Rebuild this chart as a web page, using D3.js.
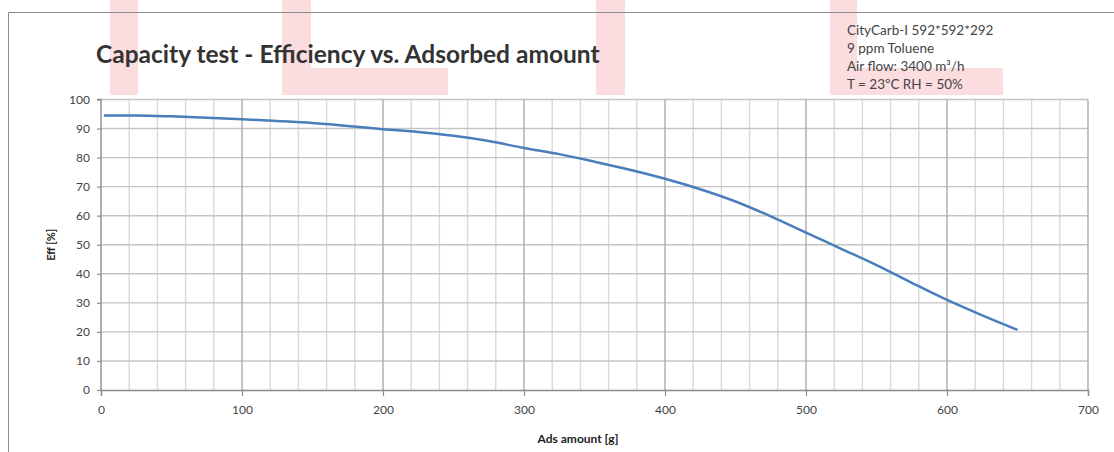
<!DOCTYPE html>
<html><head><meta charset="utf-8">
<script src="https://cdn.jsdelivr.net/npm/d3@7"></script>
<style>body{margin:0;background:#fff}svg{display:block}</style>
</head><body>
<svg id="c" width="1114" height="452"></svg>
<script>
const titleText = "Capacity test - Efficiency vs. Adsorbed amount";
const noteLines = ["CityCarb-I 592*592*292", "9 ppm Toluene", "Air flow: 3400 m³/h", "T = 23ºC RH = 50%"];
const xLabel = "Ads amount [g]";
const yLabel = "Eff [%]";
const xTicks = [0, 100, 200, 300, 400, 500, 600, 700];
const yTicks = [0, 10, 20, 30, 40, 50, 60, 70, 80, 90, 100];
const adsAmount = [2, 25, 50, 75, 100, 125, 150, 175, 200, 225, 250, 275, 300, 325, 350, 375, 400, 425, 450, 475, 500, 525, 550, 575, 600, 625, 650];
const efficiency = [94.5, 94.5, 94.2, 93.7, 93.2, 92.6, 91.9, 90.9, 89.8, 88.8, 87.5, 85.7, 83.3, 81.2, 78.6, 75.8, 72.7, 69.1, 64.9, 59.8, 54.2, 48.6, 43.0, 36.9, 31.0, 25.7, 20.7];

const svg = d3.select("#c");
const font = "Lato, 'Open Sans', sans-serif";

// decorative watermark shapes
const pink = "#fbdcdf";
const wm = svg.append("g").attr("fill", pink);
wm.append("rect").attr("x",110).attr("y",0).attr("width",28).attr("height",95);
wm.append("rect").attr("x",282).attr("y",0).attr("width",29).attr("height",95);
wm.append("rect").attr("x",282).attr("y",68).attr("width",166).attr("height",27);
wm.append("rect").attr("x",596).attr("y",0).attr("width",29).attr("height",95);
wm.append("rect").attr("x",830).attr("y",0).attr("width",27).attr("height",95);
wm.append("rect").attr("x",830).attr("y",68).attr("width",173).attr("height",27);

// chart border
svg.append("path").attr("d","M8.5,452 V12.5 H1114").attr("fill","none").attr("stroke","#8c8c8c").attr("stroke-width",1);

const x = d3.scaleLinear().domain([0,700]).range([101,1088]);
const y = d3.scaleLinear().domain([0,100]).range([390,99.5]);

// grid
const g = svg.append("g");
const minorX = d3.range(20, 700, 20).filter(v => v % 100 !== 0);
g.selectAll(".mx").data(minorX).enter().append("line")
  .attr("x1", d=>x(d)).attr("x2", d=>x(d)).attr("y1", y(0)).attr("y2", y(100))
  .attr("stroke","#d9d9d9").attr("stroke-width",1.4);
g.selectAll(".hy").data(yTicks.filter(v=>v>0)).enter().append("line")
  .attr("x1", x(0)).attr("x2", x(700)).attr("y1", d=>y(d)).attr("y2", d=>y(d))
  .attr("stroke","#c4c4c4").attr("stroke-width",1.4);
g.selectAll(".Mx").data(xTicks.filter(v=>v>0)).enter().append("line")
  .attr("x1", d=>x(d)).attr("x2", d=>x(d)).attr("y1", y(0)).attr("y2", y(100))
  .attr("stroke","#acacac").attr("stroke-width",1.4);

// axes
const xAxis = d3.axisBottom(x).tickValues(xTicks).tickSize(6).tickPadding(9);
const yAxis = d3.axisLeft(y).tickValues(yTicks).tickSize(4).tickPadding(7);
const gx = svg.append("g").attr("transform",`translate(0,${y(0)})`).call(xAxis);
const gy = svg.append("g").attr("transform",`translate(${x(0)},0)`).call(yAxis);
[gx, gy].forEach(a => {
  a.select(".domain").attr("stroke","#8c8c8c").attr("stroke-width",1.4);
  a.selectAll(".tick line").attr("stroke","#8c8c8c").attr("stroke-width",1.2);
  a.selectAll("text").attr("fill","#444").style("font-family",font).style("font-size","12px");
});
gy.select(".domain").attr("d", `M-4,${y(100)}H0V${y(0)}`);

// line
const line = d3.line().x((d,i)=>x(adsAmount[i])).y(d=>y(d)).curve(d3.curveMonotoneX);
svg.append("path").datum(efficiency).attr("d", line)
  .attr("fill","none").attr("stroke","#4a7ebb").attr("stroke-width",2.5);

// texts
svg.append("text").attr("x",96).attr("y",63).text(titleText)
  .style("font-family",font).style("font-weight","bold").style("font-size","24.5px").attr("fill","#333");
svg.append("g").selectAll("text").data(noteLines).enter().append("text")
  .attr("x",847).attr("y",(d,i)=>34.5+i*18.3).text(d=>d)
  .style("font-family",font).style("font-size","13.5px").attr("fill","#444");
svg.append("text").attr("x",578).attr("y",443).attr("text-anchor","middle").text(xLabel)
  .style("font-family",font).style("font-weight","bold").style("font-size","12px").attr("fill","#222");
svg.append("text").attr("transform",`translate(55,${y(50)}) rotate(-90)`).attr("text-anchor","middle").text(yLabel)
  .style("font-family",font).style("font-weight","bold").style("font-size","11px").attr("fill","#222");
</script>
</body></html>
